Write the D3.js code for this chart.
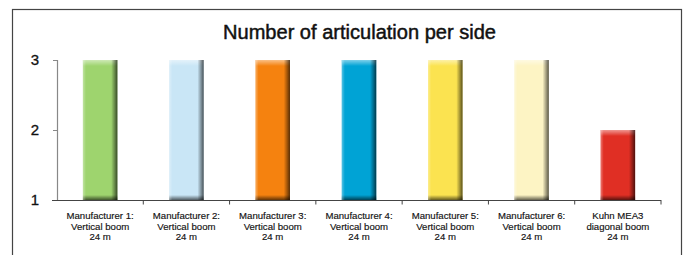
<!DOCTYPE html>
<html>
<head>
<meta charset="utf-8">
<script src="https://cdn.jsdelivr.net/npm/d3@7"></script>
<style>
  body { margin: 0; background: #fff; }
  svg { display: block; font-family: "Liberation Sans", Arial, sans-serif; }
</style>
</head>
<body>
<script>
var categories = [
    ["Manufacturer 1:", "Vertical boom", "24 m"],
    ["Manufacturer 2:", "Vertical boom", "24 m"],
    ["Manufacturer 3:", "Vertical boom", "24 m"],
    ["Manufacturer 4:", "Vertical boom", "24 m"],
    ["Manufacturer 5:", "Vertical boom", "24 m"],
    ["Manufacturer 6:", "Vertical boom", "24 m"],
    ["Kuhn MEA3", "diagonal boom", "24 m"]
];
var values = [3, 3, 3, 3, 3, 3, 2];
var barColors = ["#9ed46e", "#c9e6f6", "#f5820f", "#00a3d5", "#fbe350", "#fdf4c4", "#e02f24"];
var yTicks = [1, 2, 3];
var title = "Number of articulation per side";

var W = 689, H = 255;

var svg = d3.select("body").append("svg")
    .attr("width", W)
    .attr("height", H);

// frame
svg.append("rect")
    .attr("x", 12.5).attr("y", 9.5)
    .attr("width", 669).attr("height", 300)
    .attr("fill", "none")
    .attr("stroke", "#444")
    .attr("stroke-width", 1.2);

svg.append("text")
    .attr("x", 359.5).attr("y", 39)
    .attr("text-anchor", "middle")
    .attr("font-size", 19.5)
    .attr("fill", "#111")
    .attr("stroke", "#111")
    .attr("stroke-width", 0.45)
    .attr("textLength", 273)
    .attr("lengthAdjust", "spacingAndGlyphs")
    .text(title);

var xScale = d3.scaleBand()
    .domain(d3.range(categories.length))
    .range([57, 661])
    .paddingInner(0.6)
    .paddingOuter(0.3);

var band = d3.scaleBand()
    .domain(d3.range(categories.length))
    .range([57, 661]);

var yScale = d3.scaleLinear()
    .domain([1, 3])
    .range([200, 60]);

// gradients for the 3D look
var defs = svg.append("defs");
var hg = defs.append("linearGradient").attr("id", "hshade")
    .attr("x1", 0).attr("x2", 1).attr("y1", 0).attr("y2", 0);
hg.append("stop").attr("offset", "0%").attr("stop-color", "#fff").attr("stop-opacity", 0.35);
hg.append("stop").attr("offset", "9%").attr("stop-color", "#fff").attr("stop-opacity", 0);
hg.append("stop").attr("offset", "82%").attr("stop-color", "#000").attr("stop-opacity", 0);
hg.append("stop").attr("offset", "92%").attr("stop-color", "#000").attr("stop-opacity", 0.35);
hg.append("stop").attr("offset", "100%").attr("stop-color", "#000").attr("stop-opacity", 0.65);

var tg = defs.append("linearGradient").attr("id", "tshade")
    .attr("x1", 0).attr("x2", 0).attr("y1", 0).attr("y2", 1);
tg.append("stop").attr("offset", "0%").attr("stop-color", "#fff").attr("stop-opacity", 0.5);
tg.append("stop").attr("offset", "100%").attr("stop-color", "#fff").attr("stop-opacity", 0);

var bg = defs.append("linearGradient").attr("id", "bshade")
    .attr("x1", 0).attr("x2", 0).attr("y1", 0).attr("y2", 1);
bg.append("stop").attr("offset", "0%").attr("stop-color", "#000").attr("stop-opacity", 0);
bg.append("stop").attr("offset", "100%").attr("stop-color", "#000").attr("stop-opacity", 0.6);

var bars = svg.selectAll(".bar")
    .data(values)
    .enter().append("g")
    .attr("class", "bar");

bars.append("rect")
    .attr("x", function(d, i) { return xScale(i); })
    .attr("y", function(d) { return yScale(d); })
    .attr("width", xScale.bandwidth())
    .attr("height", function(d) { return yScale(1) - yScale(d); })
    .attr("fill", function(d, i) { return barColors[i]; });

bars.append("rect")
    .attr("x", function(d, i) { return xScale(i); })
    .attr("y", function(d) { return yScale(d); })
    .attr("width", xScale.bandwidth())
    .attr("height", 6)
    .attr("fill", "url(#tshade)");

bars.append("rect")
    .attr("x", function(d, i) { return xScale(i); })
    .attr("y", yScale(1) - 5)
    .attr("width", xScale.bandwidth())
    .attr("height", 5)
    .attr("fill", "url(#bshade)");

bars.append("rect")
    .attr("x", function(d, i) { return xScale(i); })
    .attr("y", function(d) { return yScale(d); })
    .attr("width", xScale.bandwidth())
    .attr("height", function(d) { return yScale(1) - yScale(d); })
    .attr("fill", "url(#hshade)");

// y axis
var yAxis = svg.append("g")
    .attr("transform", "translate(57,0)")
    .call(d3.axisLeft(yScale).tickValues(yTicks).tickFormat(d3.format("d")).tickSize(4).tickPadding(14));
yAxis.select(".domain").attr("stroke", "#888").attr("stroke-width", 1.2).attr("d", "M0.5,60V200");
yAxis.selectAll(".tick line").attr("stroke", "#888");
yAxis.selectAll(".tick text")
    .attr("font-size", 15)
    .attr("fill", "#111")
    .attr("stroke", "#111")
    .attr("stroke-width", 0.3)
    .attr("font-family", "Liberation Sans, Arial, sans-serif");

// x axis
var xAxis = svg.append("g")
    .attr("transform", "translate(0,200)");
xAxis.append("line")
    .attr("x1", 52).attr("x2", 661)
    .attr("y1", 0.5).attr("y2", 0.5)
    .attr("stroke", "#444")
    .attr("stroke-width", 1.2);
xAxis.selectAll(".xtick")
    .data(d3.range(1, categories.length + 1))
    .enter().append("line")
    .attr("x1", function(d) { return d < categories.length ? band(d) : band.range()[1]; })
    .attr("x2", function(d) { return d < categories.length ? band(d) : band.range()[1]; })
    .attr("y1", 0).attr("y2", 4.5)
    .attr("stroke", "#444");

var labels = xAxis.selectAll(".xlabel")
    .data(categories)
    .enter().append("text")
    .attr("text-anchor", "middle")
    .attr("font-size", 9.6)
    .attr("fill", "#111")
    .attr("stroke", "#111")
    .attr("stroke-width", 0.15);
labels.selectAll("tspan")
    .data(function(d, i) { return d.map(function(s) { return {s: s, i: i}; }); })
    .enter().append("tspan")
    .attr("x", function(d) { return band(d.i) + band.bandwidth() / 2; })
    .attr("y", function(d, j) { return 19 + j * 10.6; })
    .text(function(d) { return d.s; });
</script>
</body>
</html>
